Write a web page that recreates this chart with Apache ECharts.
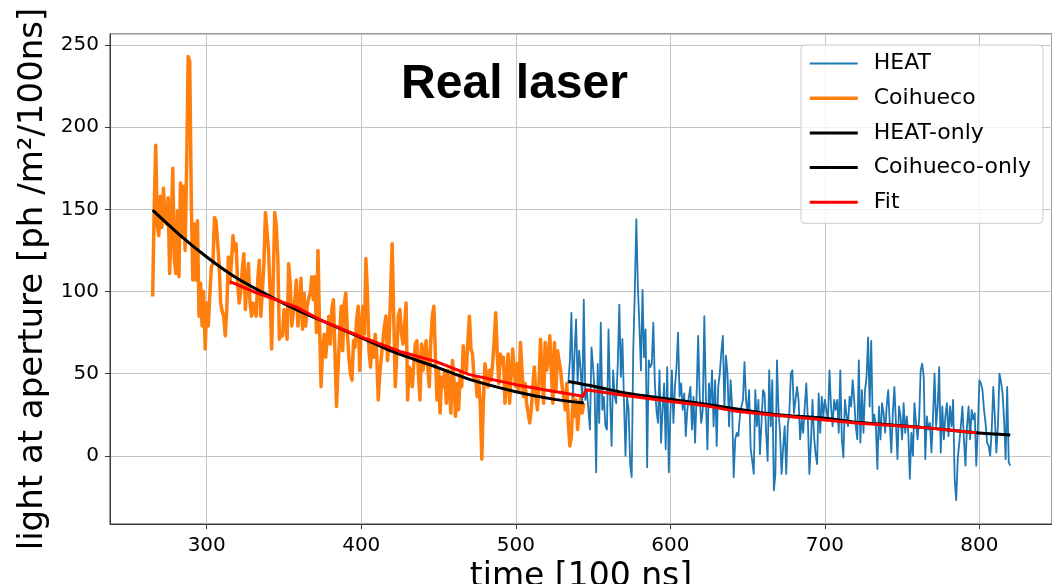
<!DOCTYPE html>
<html>
<head>
<meta charset="utf-8">
<script src="https://cdn.jsdelivr.net/npm/echarts@6/dist/echarts.min.js"></script>
<style>
html,body{margin:0;padding:0;background:#ffffff;}
#c{width:1052px;height:584px;}
</style>
</head>
<body>
<div id="c"></div>
<script>
// ---------- data ----------
const coihuecoStart = 265;          // first time bin [100 ns], step 1
const coihuecoValues = [
  97,150,189,140,134,158,139,163,145,141,
  157,111,141,175,120,111,149,109,166,133,
  164,125,176,243,240,155,107,141,107,143,
  85,105,79,100,65,93,79,98,115,117,
  145,143,130,117,93,88,85,73,90,121,
  105,118,134,125,129,105,93,100,113,123,
  89,105,117,93,85,93,88,85,107,119,
  85,100,117,148,147,125,100,65,105,148,
  140,121,71,75,73,89,80,71,117,105,
  79,78,95,107,79,90,108,77,99,79,
  91,96,99,109,95,109,75,125,79,42,
  64,74,60,72,85,68,90,95,62,30,
  54,74,91,64,93,99,75,60,50,46,
  70,66,83,91,52,79,91,74,120,99,
  64,54,70,60,74,62,34,50,60,70,
  79,85,58,70,100,129,85,42,62,85,
  89,75,68,79,93,34,54,52,42,56,
  68,70,50,34,68,52,64,70,54,42,
  70,85,91,60,34,52,26,48,42,52,
  32,52,40,26,58,46,24,44,28,50,
  42,67,56,52,70,85,65,62,46,48,
  36,46,32,-2,32,56,50,42,52,46,
  56,70,87,62,44,62,56,60,32,46,
  62,32,50,65,52,42,56,40,69,52,
  36,44,32,26,20,28,42,54,36,28,
  44,71,50,32,69,52,60,73,52,32,
  69,40,64,58,52,42,36,28,44,20,
  6,12,36,24,34,16,28,36,26,32
];

const heatStart = 534;              // first time bin [100 ns], step 1
const heatValues = [
  44,58,87,36,62,83,44,64,52,32,
  95,34,40,28,16,66,54,40,-10,56,
  20,81,28,36,18,16,77,36,6,52,
  36,32,56,92,48,71,34,0,36,28,
  -5,-13,64,99,144,103,79,52,101,60,
  77,-7,58,54,56,81,44,28,20,52,
  8,28,44,4,54,-10,24,52,20,42,
  54,75,36,44,28,38,12,28,36,42,
  16,36,8,36,73,36,20,28,85,36,
  4,44,30,52,18,46,6,42,50,63,
  73,28,61,50,18,46,30,-13,10,14,
  12,24,30,34,57,34,26,40,4,-3,
  -11,40,18,34,1,20,40,38,14,-3,
  52,18,46,-21,-11,58,28,14,-11,5,
  18,-11,18,26,50,52,26,34,42,34,
  10,22,14,30,44,22,-11,8,34,12,
  1,-5,38,14,36,24,34,28,22,52,
  30,18,34,28,34,14,52,10,-1,34,
  25,18,36,30,46,34,18,10,58,8,
  40,14,40,48,72,30,70,20,25,18,
  -8,30,10,32,26,14,30,40,20,2,
  26,42,20,-2,30,24,10,32,14,24,
  14,-14,14,0,32,20,10,22,52,56,
  48,-2,24,16,20,2,24,50,18,30,
  54,2,30,10,24,32,12,30,18,34,
  -14,-27,-2,8,18,30,10,-6,18,30,
  10,28,22,26,-6,16,46,44,40,28,
  20,8,6,0,16,42,24,2,18,50,
  45,38,22,-2,42,-4,-6
];

const coihuecoOnlyT = [265,283,300,318,337,358,380,401,420,450,470,500,524,544];
const coihuecoOnlyY = [149.5,134,121,109,99,89,80,71.5,63.5,53.5,46.5,39,34.5,32.2];

const heatOnlyT = [534,551,572,600,626,666,700,723,763,798,820];
const heatOnlyY = [45.2,42.2,38.1,34.5,31,25.3,22.9,20.2,17.3,14.1,12.7];

const fitT = [315,330,358,376,400,425,448,470,500,524,543.5,545.4,572,600,623,644,666,700,720,763,798];
const fitY = [106,100,90.5,81.6,72.4,63.5,57.5,49.4,43.3,39.3,36.2,40.2,36.5,33,30.4,26.9,24.9,21.8,20,17.3,14.1];

const xTickLabels = [300,400,500,600,700,800];
const yTickLabels = [0,50,100,150,200,250];
const legendNames = ['HEAT','Coihueco','HEAT-only','Coihueco-only','Fit'];

// ---------- build series data ----------
const pairs = (start, vals) => vals.map((v, i) => [start + i, v]);
const zipXY = (t, y) => t.map((x, i) => [x, y[i]]);

const chart = echarts.init(document.getElementById('c'), null, {renderer: 'canvas'});

const tickFont = 'DejaVu Sans';
const option = {
  animation: false,
  backgroundColor: '#ffffff',
  grid: {
    left: 110, right: 0, top: 34, bottom: 60,
    show: true, borderColor: '#3a3a3a', borderWidth: 1,
    containLabel: false, outerBoundsMode: 'none'
  },
  graphic: [{
    type: 'text', x: 514.5, y: 84.5, z: 10,
    style: {
      text: 'Real laser', align: 'center', verticalAlign: 'middle',
      font: 'bold 48px "Liberation Sans", Arial, sans-serif', fill: '#000000'
    }
  }],
  legend: {
    orient: 'vertical', left: 801, top: 45,
    padding: [7.5, 12, 10, 7],
    itemWidth: 48, itemHeight: 14, itemGap: 12.7,
    backgroundColor: 'rgba(255,255,255,0.8)',
    borderColor: '#cccccc', borderWidth: 1, borderRadius: 4,
    textStyle: {fontSize: 22, fontFamily: tickFont, color: '#000000', lineHeight: 22, padding: [0, 0, 0, 11]},
    lineStyle: {width: 'inherit'},
    itemStyle: {opacity: 0},
    data: legendNames
  },
  xAxis: {
    type: 'value', min: 237.4, max: 847,
    name: 'time [100 ns]', nameLocation: 'middle', nameGap: 35,
    nameTextStyle: {fontSize: 33, fontFamily: tickFont, color: '#000000'},
    axisLine: {show: true, onZero: false, lineStyle: {color: '#3a3a3a', width: 1}},
    axisTick: {show: true, length: 5, lineStyle: {color: '#3a3a3a'}},
    axisLabel: {
      fontSize: 20, fontFamily: tickFont, color: '#000000', margin: 12,
      showMinLabel: false, showMaxLabel: false,
      formatter: v => xTickLabels.includes(v) ? String(v) : ''
    },
    splitLine: {show: true, lineStyle: {color: '#c4c4c4', width: 1}}
  },
  yAxis: {
    type: 'value', min: -41.5, max: 256.7,
    name: 'light at aperture [ph /m²/100ns]', nameLocation: 'middle', nameGap: 59,
    nameTextStyle: {fontSize: 34, fontFamily: tickFont, color: '#000000'},
    axisLine: {show: true, onZero: false, lineStyle: {color: '#3a3a3a', width: 1}},
    axisTick: {show: true, length: 5, lineStyle: {color: '#3a3a3a'}},
    axisLabel: {
      fontSize: 20, fontFamily: tickFont, color: '#000000', margin: 11,
      showMinLabel: false, showMaxLabel: false,
      formatter: v => yTickLabels.includes(v) ? String(v) : ''
    },
    splitLine: {show: true, lineStyle: {color: '#c4c4c4', width: 1}}
  },
  series: [
    {
      name: 'Coihueco', type: 'line', data: pairs(coihuecoStart, coihuecoValues),
      symbol: 'none', showSymbol: false, z: 2,
      lineStyle: {color: '#ff7f0e', width: 3.5, join: 'round'}, itemStyle: {color: '#ff7f0e'}
    },
    {
      name: 'HEAT', type: 'line', data: pairs(heatStart, heatValues),
      symbol: 'none', showSymbol: false, z: 3,
      lineStyle: {color: '#1f77b4', width: 1.8, join: 'round'}, itemStyle: {color: '#1f77b4'}
    },
    {
      name: 'Coihueco-only', type: 'line', data: zipXY(coihuecoOnlyT, coihuecoOnlyY),
      symbol: 'none', showSymbol: false, smooth: 0.3, z: 4,
      lineStyle: {color: '#000000', width: 3}, itemStyle: {color: '#000000'}
    },
    {
      name: 'HEAT-only', type: 'line', data: zipXY(heatOnlyT, heatOnlyY),
      symbol: 'none', showSymbol: false, smooth: 0.3, z: 4,
      lineStyle: {color: '#000000', width: 3}, itemStyle: {color: '#000000'}
    },
    {
      name: 'Fit', type: 'line', data: zipXY(fitT, fitY),
      symbol: 'none', showSymbol: false, z: 5,
      lineStyle: {color: '#ff0000', width: 3, join: 'round'}, itemStyle: {color: '#ff0000'}
    }
  ]
};
chart.setOption(option);
</script>
</body>
</html>
